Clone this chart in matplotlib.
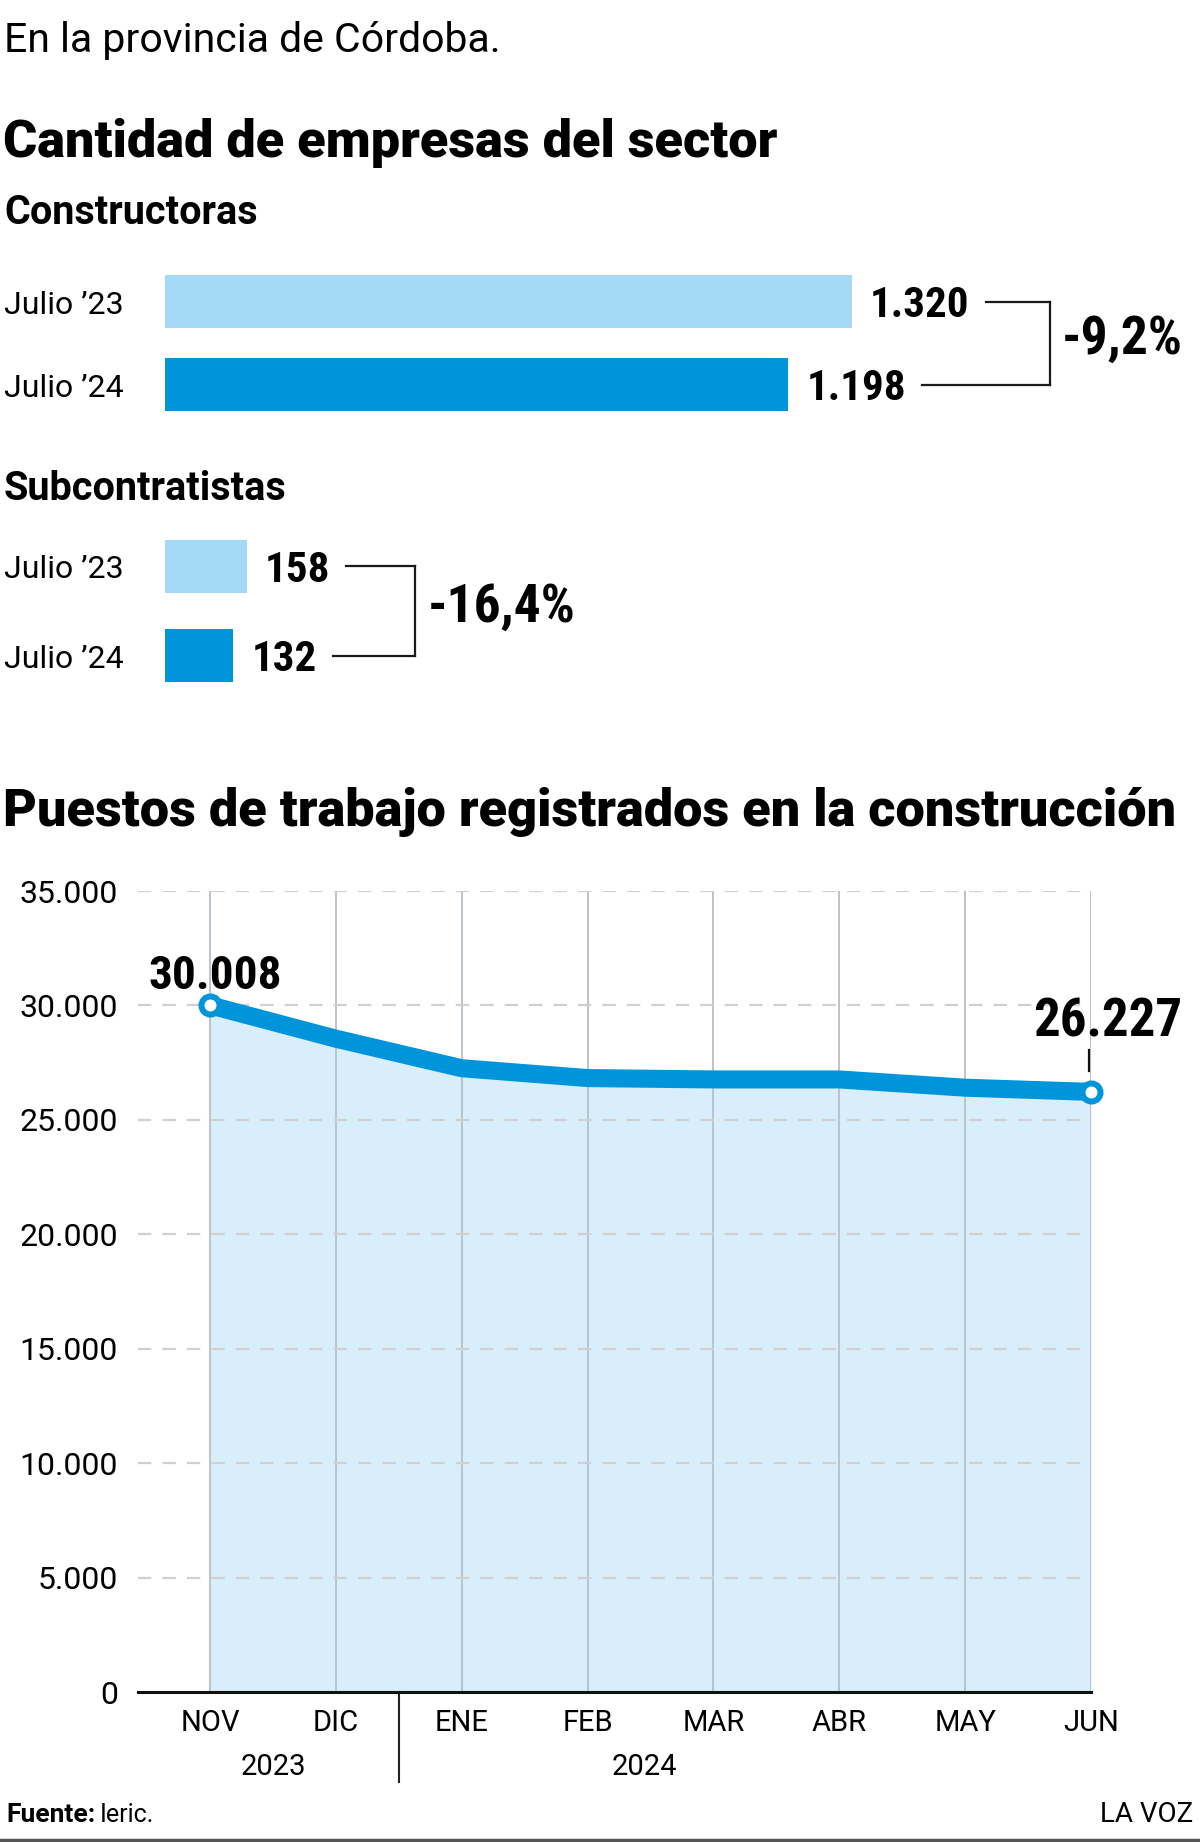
import matplotlib
matplotlib.use("Agg")
import matplotlib.pyplot as plt
import matplotlib.transforms as mtransforms
from matplotlib import font_manager
from matplotlib.lines import Line2D

# ---- data ----
subtitle = "En la provincia de Córdoba."
title_empresas = "Cantidad de empresas del sector"
title_puestos = "Puestos de trabajo registrados en la construcción"
periods = ["Julio ’23", "Julio ’24"]
constructoras = [1320, 1198]
subcontratistas = [158, 132]
change_constructoras = "-9,2%"
change_subcontratistas = "-16,4%"

months = ["NOV", "DIC", "ENE", "FEB", "MAR", "ABR", "MAY", "JUN"]
years = ["2023", "2024"]
puestos = [30008, 28550, 27260, 26830, 26770, 26770, 26410, 26227]
y_ticks = [0, 5000, 10000, 15000, 20000, 25000, 30000, 35000]

LIGHT = "#a4daf5"
DARK = "#0095da"
FILL = "#d8eefa"

# ---- fonts ----
available = {f.name for f in font_manager.fontManager.ttflist}
COND = "Roboto"
for cand in ["Roboto Condensed", "Liberation Sans Narrow"]:
    if cand in available:
        COND = cand
        break
plt.rcParams["font.family"] = ["Roboto", "DejaVu Sans"]
COND_FAM = [COND, "DejaVu Sans"]

W, H = 1200, 1842
fig = plt.figure(figsize=(W / 100, H / 100), dpi=100)
ID = mtransforms.IdentityTransform()


def ftext(x, y, s, **kw):
    # x, y in pixels from the top-left corner
    return fig.text(x / W, 1 - y / H, s, **kw)


def fmt(v):
    return f"{v:,}".replace(",", ".")


# ---- headings ----
ftext(4, 52, subtitle, fontsize=29.5, va="baseline")
ftext(3, 157, title_empresas, fontsize=37.6, weight="black", va="baseline")
ftext(4, 224, "Constructoras", fontsize=28.5, weight="bold", va="baseline")
ftext(4, 500, "Subcontratistas", fontsize=28.5, weight="bold", va="baseline")
ftext(3, 826, title_puestos, fontsize=37.6, weight="black", va="baseline")

# ---- bar panels ----
PX_PER_UNIT = 687.5 / 1320
BAR_LEFT = 164.5


def bar_panel(values, c_top, c_bot, change, bracket_gap):
    spacing = c_bot - c_top
    h = 53 / spacing
    top = c_top - 26.5
    bottom = c_bot + 26.5
    ax = fig.add_axes([BAR_LEFT / W, 1 - bottom / H, (W - BAR_LEFT) / W, (bottom - top) / H])
    ax.barh(range(len(values)), values, height=h, color=[LIGHT, DARK])
    ax.set_xlim(0, (W - BAR_LEFT) / PX_PER_UNIT)
    ax.set_ylim(len(values) - 1 + h / 2, -h / 2)
    ax.axis("off")
    labels = []
    for i, v in enumerate(values):
        labels.append(ax.annotate(fmt(v), xy=(v, i), xytext=(13, -11), textcoords="offset points",
                                  fontsize=31, weight="bold", family=COND_FAM,
                                  va="baseline", ha="left"))
        ydisp = ax.transData.transform((0, i))[1]
        fig.text(4 / W, (ydisp - 12) / H, periods[i], fontsize=23, va="baseline")
    fig.canvas.draw()
    r = fig.canvas.get_renderer()
    boxes = [t.get_window_extent(r) for t in labels]
    bx = max(b.x1 for b in boxes) + bracket_gap
    ys = [ax.transData.transform((0, i))[1] for i in range(len(values))]
    for b, y in zip(boxes, ys):
        fig.add_artist(Line2D([b.x1 + 16, bx], [y, y], color="#1a1a1a", lw=1.6, transform=ID))
    fig.add_artist(Line2D([bx, bx], [ys[0], ys[1]], color="#1a1a1a", lw=1.6, transform=ID))
    fig.text((bx + 12) / W, ((ys[0] + ys[1]) / 2 + 4) / H, change, fontsize=38.5,
             weight="bold", family=COND_FAM, va="center", ha="left")
    return ax


bar_panel(constructoras, 301.7, 385.0, change_constructoras, 80)
bar_panel(subcontratistas, 566.3, 655.8, change_subcontratistas, 85)

# ---- line chart ----
left, right, top, bottom = 137.5, 1091, 891, 1692.4
ax = fig.add_axes([left / W, 1 - bottom / H, (right - left) / W, (bottom - top) / H])
x = list(range(len(months)))
ax.set_xlim(-(210 - left) / ((right - 210) / (len(months) - 1)), len(months) - 1)
ax.set_ylim(0, y_ticks[-1])
ax.fill_between(x, puestos, 0, color=FILL, lw=0, zorder=1)
ax.vlines(x, 0, y_ticks[-1], color="#b9c4cc", lw=1.4, zorder=2)
for t in y_ticks[1:]:
    ax.axhline(t, color="#d0d0d0", lw=1.6, ls=(0, (6, 5)), zorder=2)
ax.plot(x, puestos, color=DARK, lw=13, solid_capstyle="round", solid_joinstyle="round", zorder=3)
ax.plot([x[0], x[-1]], [puestos[0], puestos[-1]], "o", ms=13, mfc="white", mec=DARK,
        mew=4.3, zorder=4, clip_on=False)

for s in ["left", "right", "top"]:
    ax.spines[s].set_visible(False)
ax.spines["bottom"].set_linewidth(2.2)
ax.spines["bottom"].set_color("#111111")
ax.spines["bottom"].set_zorder(5)
ax.set_yticks(y_ticks)
ax.set_yticklabels([fmt(t) for t in y_ticks], fontsize=23)
ax.set_xticks(x)
ax.set_xticklabels(months, fontsize=21)
ax.tick_params(axis="y", length=0, pad=14)
ax.tick_params(axis="x", length=0, pad=12)

ax.annotate(fmt(puestos[0]), xy=(x[0], puestos[0]), xytext=(4, 12), textcoords="offset points",
            fontsize=34, weight="bold", family=COND_FAM, ha="center", va="baseline")
ax.annotate(fmt(puestos[-1]), xy=(x[-1], puestos[-1]), xytext=(12, 40), textcoords="offset points",
            fontsize=38, weight="bold", family=COND_FAM, ha="center", va="baseline")
px_end = ax.transData.transform((x[-1], puestos[-1]))
fig.add_artist(Line2D([px_end[0] - 2, px_end[0] - 2], [px_end[1] + 21, px_end[1] + 42],
                      color="#111111", lw=1.6, transform=ID))

trans = mtransforms.blended_transform_factory(ax.transData, ax.transAxes)
year_pos = [0.5, 3.45]
for xp, yr in zip(year_pos, years):
    ax.annotate(yr, xy=(xp, 0), xycoords=trans, xytext=(0, -54), textcoords="offset points",
                fontsize=21, ha="center", va="center")
ax.plot([1.5, 1.5], [0, -90 / (bottom - top)], transform=trans, color="#222222", lw=1.5, clip_on=False)

# ---- footer ----
f1 = ftext(6, 1822, "Fuente:", fontsize=19, weight="bold", va="baseline")
fig.canvas.draw()
bb = f1.get_window_extent(fig.canvas.get_renderer())
fig.text((bb.x1 + 4) / W, 1 - 1822 / H, "Ieric.", fontsize=18, va="baseline")
ftext(1193, 1822, "LA VOZ", fontsize=20, va="baseline", ha="right")
fig.add_artist(Line2D([0, 1], [1 - 1840 / H, 1 - 1840 / H], color="#555555", lw=2.5))

fig.savefig("out.png", dpi=100)
